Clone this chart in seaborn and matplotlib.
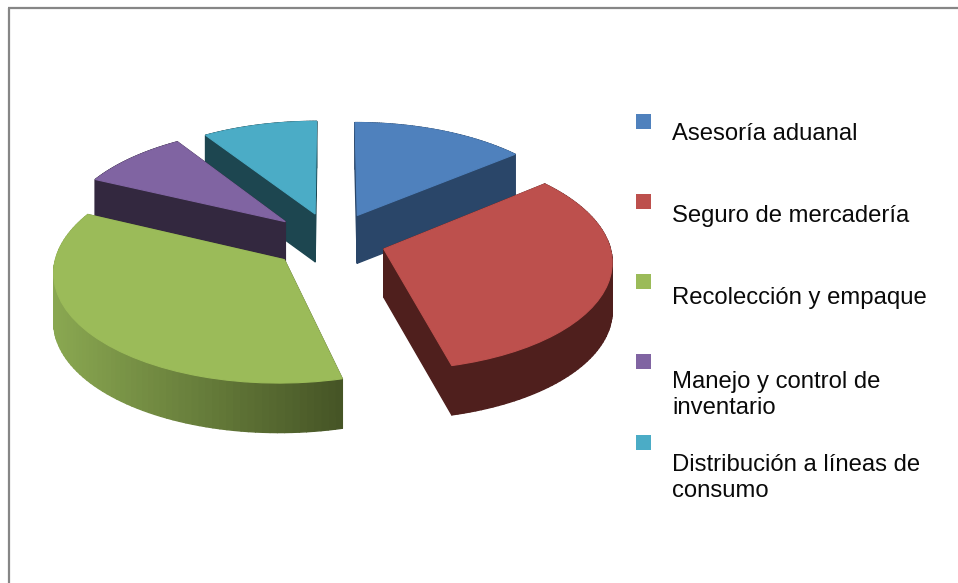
import numpy as np
import matplotlib
matplotlib.use("Agg")
import matplotlib.pyplot as plt
from matplotlib.collections import PolyCollection
from matplotlib.colors import to_rgb
from matplotlib.patches import Rectangle
from matplotlib.transforms import Transform
import seaborn as sns

categories = ["Asesoría aduanal", "Seguro de mercadería", "Recolección y empaque",
              "Manejo y control de\ninventario", "Distribución a líneas de\nconsumo"]
values = [14, 32, 36, 8.8, 9.2]
top_colors = ["#4f81bd", "#bd504d", "#9bbb59", "#8064a2", "#4bacc6"]
wall_left = ["#2a4669", "#4f1f1d", "#8aa851", "#33283f", "#1d4650"]
wall_right = ["#2a4669", "#4f1f1d", "#465526", "#33283f", "#1d4650"]
explode = [0.27, 0.24, 0.27, 0.28, 0.27]
draw_order = [4, 0, 3, 2, 1]

CX, CY, RX, RY, P, DEPTH = 332.0, 241.0, 225.0, 107.0, 0.10, 48.0


def project(xy, h=0.0):
    xy = np.asarray(xy, float)
    s = 1.0 / (1.0 + P * xy[:, 1])
    return np.column_stack([CX + RX * xy[:, 0] * s, CY - RY * xy[:, 1] * s + h * s ** 0.25])


class Perspective(Transform):
    input_dims = output_dims = 2
    is_affine = False
    has_inverse = False

    def transform_non_affine(self, values):
        return project(values)


sns.set_theme(style="white")
plt.rcParams["font.family"] = ["Liberation Sans", "DejaVu Sans"]

fig = plt.figure(figsize=(9.58, 5.83), dpi=100, facecolor="white")
ax = fig.add_axes([0, 0, 1, 1])
palette = sns.color_palette(top_colors)
wedges, _ = ax.pie(values, explode=explode, colors=palette, startangle=90,
                   counterclock=False, radius=1.0, frame=False)
ax.set_aspect("auto")
ax.set_xlim(0, 958)
ax.set_ylim(583, 0)
ax.axis("off")

persp = Perspective() + ax.transData
for rank, i in enumerate(draw_order):
    w = wedges[i]
    w.set_transform(persp)
    w.set_clip_on(False)
    w.set_edgecolor(top_colors[i])
    w.set_linewidth(0.8)
    w.set_zorder(2 * rank + 2)
    t = np.radians(np.linspace(w.theta1, w.theta2, 80))
    cx, cy = w.center
    arc = np.column_stack([cx + w.r * np.cos(t), cy + w.r * np.sin(t)])
    outline = np.vstack([[w.center], arc, [w.center]])
    top = project(outline)
    bot = project(outline, DEPTH)
    quads = [np.array([top[k], top[k + 1], bot[k + 1], bot[k]]) for k in range(len(outline) - 1)]
    quads.sort(key=lambda q: q[:, 1].mean())
    xs = np.array([q[:, 0].mean() for q in quads])
    f = (xs - xs.min()) / max(xs.max() - xs.min(), 1)
    a, b = np.array(to_rgb(wall_left[i])), np.array(to_rgb(wall_right[i]))
    cols = [tuple(a + (b - a) * v) for v in f]
    ax.add_collection(PolyCollection(quads, facecolors=cols, edgecolors=cols,
                                     linewidths=1.0, zorder=2 * rank + 1))

# outer frame of the pasted chart
ax.plot([9, 9], [582.5, 8], color="#868686", lw=1.6, solid_capstyle="butt", zorder=20)
ax.plot([8, 958], [8, 8], color="#868686", lw=1.6, solid_capstyle="butt", zorder=20)

square_y = [121, 201, 281, 361, 442]
text_y = [134, 216, 298, 395, 478]
for c, label, sy, ty in zip(top_colors, categories, square_y, text_y):
    ax.add_patch(Rectangle((636, sy - 7.5), 15, 15, facecolor=c, edgecolor="none", zorder=21))
    ax.text(672, ty, label, fontsize=17.2, color="#0a0a0a", va="center", ha="left",
            linespacing=1.28, zorder=21)

fig.savefig("out.png", dpi=100, facecolor="white")
